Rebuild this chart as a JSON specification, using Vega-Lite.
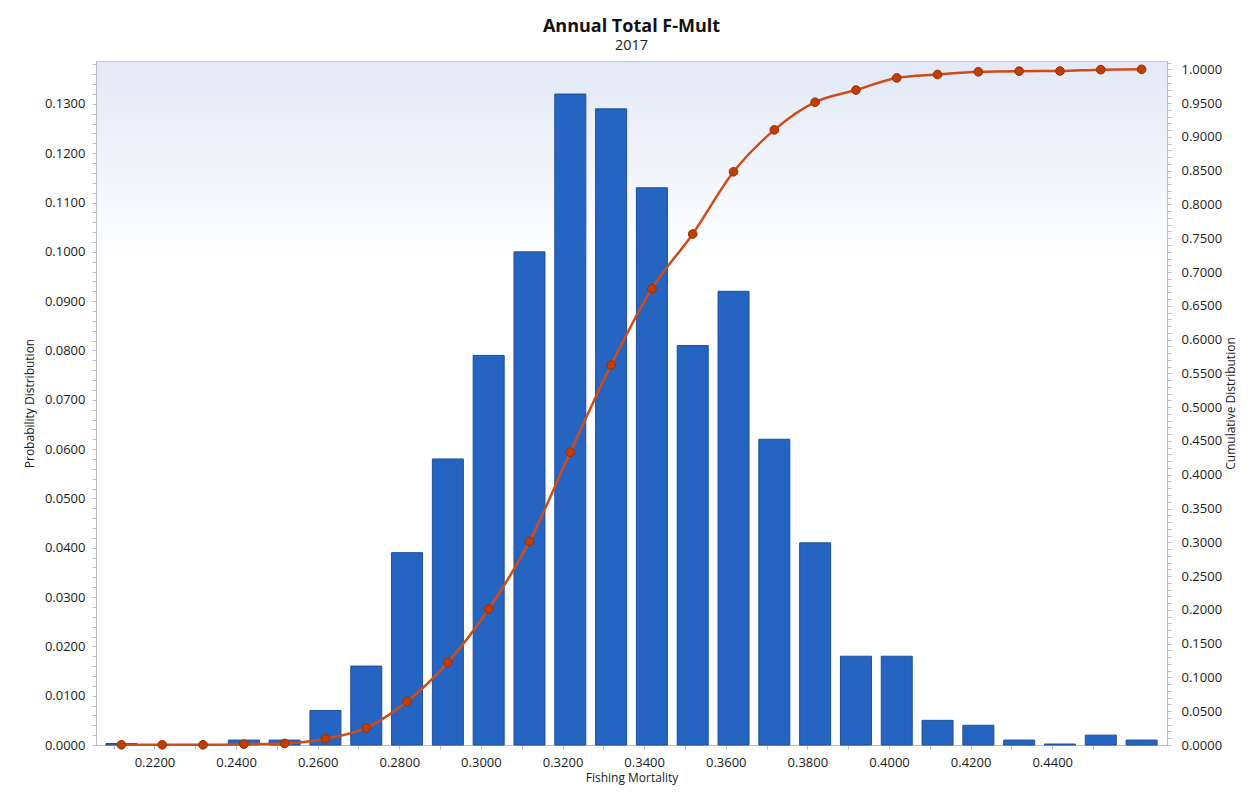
{
  "$schema": "https://vega.github.io/schema/vega-lite/v6.json",
  "width": 1071,
  "height": 684,
  "autosize": {"type": "none"},
  "padding": {"left": 96, "top": 61, "right": 83, "bottom": 54},
  "background": "#ffffff",
  "title": {
    "text": "Annual Total F-Mult",
    "subtitle": "2017",
    "font": "Open Sans",
    "fontSize": 18,
    "fontWeight": "bold",
    "color": "#111111",
    "subtitleFont": "Open Sans",
    "subtitleFontSize": 14.5,
    "subtitleColor": "#222222",
    "subtitlePadding": 3,
    "offset": 4,
    "anchor": "middle",
    "frame": "group"
  },
  "config": {
    "view": {
      "fill": {
        "gradient": "linear",
        "x1": 0, "y1": 0, "x2": 0, "y2": 1,
        "stops": [
          {"offset": 0, "color": "#e2e9f6"},
          {"offset": 0.3, "color": "#ffffff"},
          {"offset": 1, "color": "#ffffff"}
        ]
      },
      "stroke": "#c3c7cf"
    },
    "axis": {
      "grid": false,
      "domainColor": "#b9bdc5",
      "tickColor": "#b9bdc5",
      "tickSize": 4,
      "labelFont": "Open Sans",
      "labelFontSize": 13,
      "labelColor": "#1a1a1a",
      "labelOverlap": false,
      "labelFlush": false,
      "titleFont": "Open Sans",
      "titleFontSize": 12,
      "titleFontWeight": "normal",
      "titleColor": "#1a1a1a"
    }
  },
  "data": {
    "values": [
      {"f": 0.2119, "p": 0.0003, "c": 0.0003},
      {"f": 0.2219, "p": 0.0, "c": 0.0003},
      {"f": 0.2319, "p": 0.0, "c": 0.0003},
      {"f": 0.2419, "p": 0.001, "c": 0.0013},
      {"f": 0.2519, "p": 0.001, "c": 0.0023},
      {"f": 0.2619, "p": 0.007, "c": 0.0093},
      {"f": 0.2719, "p": 0.016, "c": 0.0253},
      {"f": 0.2819, "p": 0.039, "c": 0.0643},
      {"f": 0.2919, "p": 0.058, "c": 0.1223},
      {"f": 0.3019, "p": 0.079, "c": 0.2013},
      {"f": 0.3119, "p": 0.100, "c": 0.3013},
      {"f": 0.3219, "p": 0.132, "c": 0.4333},
      {"f": 0.3319, "p": 0.129, "c": 0.5623},
      {"f": 0.3419, "p": 0.113, "c": 0.6753},
      {"f": 0.3519, "p": 0.081, "c": 0.7563},
      {"f": 0.3619, "p": 0.092, "c": 0.8483},
      {"f": 0.3719, "p": 0.062, "c": 0.9103},
      {"f": 0.3819, "p": 0.041, "c": 0.9513},
      {"f": 0.3919, "p": 0.018, "c": 0.9693},
      {"f": 0.4019, "p": 0.018, "c": 0.9873},
      {"f": 0.4119, "p": 0.005, "c": 0.9923},
      {"f": 0.4219, "p": 0.004, "c": 0.9963},
      {"f": 0.4319, "p": 0.001, "c": 0.9973},
      {"f": 0.4419, "p": 0.0002, "c": 0.9975},
      {"f": 0.4519, "p": 0.002, "c": 0.9995},
      {"f": 0.4619, "p": 0.001, "c": 1.0}
    ]
  },
  "layer": [
    {
      "mark": {"type": "bar", "size": 31, "color": "#2664c1", "stroke": "#1d4f9c", "strokeWidth": 1},
      "encoding": {
        "x": {
          "field": "f", "type": "quantitative",
          "scale": {"domain": [0.2069, 0.4669], "nice": false, "zero": false},
          "axis": {
            "title": "Fishing Mortality",
            "values": [0.21, 0.22, 0.23, 0.24, 0.25, 0.26, 0.27, 0.28, 0.29, 0.30, 0.31, 0.32, 0.33, 0.34, 0.35, 0.36, 0.37, 0.38, 0.39, 0.40, 0.41, 0.42, 0.43, 0.44, 0.45],
            "labelExpr": "abs(datum.value * 50 - round(datum.value * 50)) < 0.000001 ? format(datum.value, '.4f') : ''",
            "labelPadding": 7,
            "titlePadding": 3
          }
        },
        "y": {
          "field": "p", "type": "quantitative",
          "scale": {"domain": [0, 0.1387], "nice": false},
          "axis": {
            "title": "Probability Distribution",
            "orient": "left",
            "tickCount": 70,
            "labelExpr": "abs(datum.value * 100 - round(datum.value * 100)) < 0.000001 ? format(datum.value, '.4f') : ''",
            "labelPadding": 7,
            "titlePadding": 8
          }
        }
      }
    },
    {
      "mark": {"type": "line", "interpolate": "monotone", "color": "#cf4b17", "strokeWidth": 2.5},
      "encoding": {
        "x": {"field": "f", "type": "quantitative"},
        "y": {
          "field": "c", "type": "quantitative",
          "scale": {"domain": [0, 1.0123], "nice": false},
          "axis": {
            "title": "Cumulative Distribution",
            "orient": "right",
            "tickCount": 101,
            "labelExpr": "abs(datum.value * 20 - round(datum.value * 20)) < 0.000001 ? format(datum.value, '.4f') : ''",
            "labelPadding": 10,
            "titlePadding": 4,
            "titleAngle": -90,
            "titleBaseline": "top"
          }
        }
      }
    },
    {
      "mark": {"type": "point", "filled": true, "fill": "#c23d02", "stroke": "#992f00", "strokeWidth": 1, "size": 75, "opacity": 1},
      "encoding": {
        "x": {"field": "f", "type": "quantitative"},
        "y": {
          "field": "c", "type": "quantitative",
          "scale": {"domain": [0, 1.0123], "nice": false},
          "axis": null
        }
      }
    }
  ],
  "resolve": {"scale": {"y": "independent"}}
}
